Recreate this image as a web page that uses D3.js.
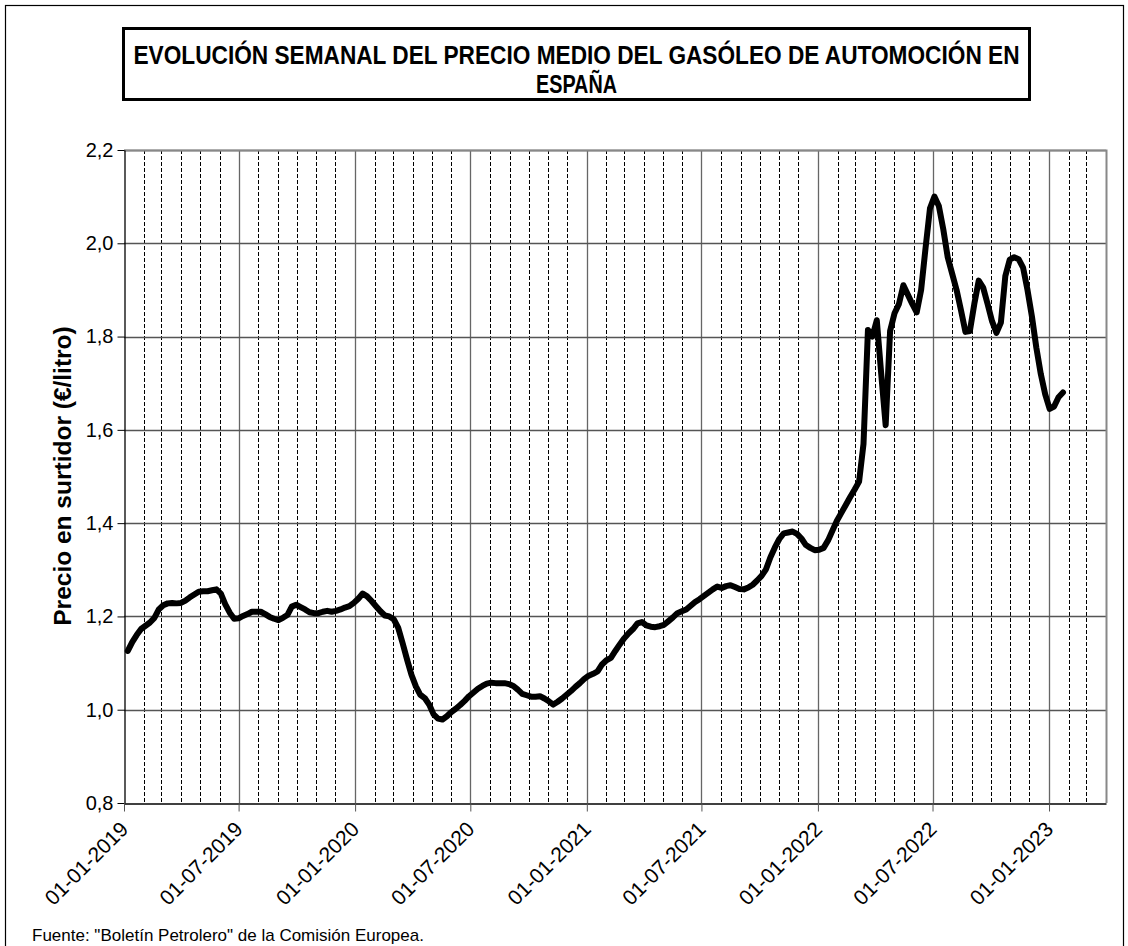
<!DOCTYPE html>
<html>
<head>
<meta charset="utf-8">
<script src="https://cdn.jsdelivr.net/npm/d3@7"></script>
<style>
  body { margin: 0; background: #fff; }
  svg { display: block; font-family: "Liberation Sans", Arial, sans-serif; }
</style>
</head>
<body>
<script>
const width = 1128;
const height = 946;

// weekly series, first week starting on this Monday
const firstWeek = "2019-01-07";
const prices = [
  1.126, 1.145, 1.160, 1.173, 1.180, 1.187, 1.197, 1.215, 1.224, 1.228,
  1.229, 1.228, 1.229, 1.234, 1.241, 1.247, 1.253, 1.254, 1.254, 1.256,
  1.258, 1.249, 1.226, 1.208, 1.195, 1.196, 1.201, 1.205, 1.210, 1.210,
  1.210, 1.205, 1.199, 1.195, 1.192, 1.197, 1.203, 1.221, 1.225, 1.220,
  1.215, 1.209, 1.207, 1.207, 1.210, 1.212, 1.210, 1.212, 1.215, 1.219,
  1.222, 1.229, 1.238, 1.249, 1.243, 1.233, 1.222, 1.211, 1.202, 1.200,
  1.194, 1.176, 1.143, 1.108, 1.075, 1.050, 1.032, 1.025, 1.011, 0.990,
  0.981, 0.979, 0.986, 0.995, 1.002, 1.010, 1.019, 1.029, 1.037, 1.045,
  1.051, 1.056, 1.058, 1.057, 1.057, 1.057, 1.055, 1.051, 1.043, 1.034,
  1.031, 1.028, 1.028, 1.029, 1.024, 1.018, 1.011, 1.017, 1.024, 1.032,
  1.040, 1.049, 1.057, 1.066, 1.073, 1.077, 1.082, 1.097, 1.106, 1.111,
  1.126, 1.140, 1.153, 1.164, 1.173, 1.185, 1.188, 1.181, 1.178, 1.177,
  1.179, 1.182, 1.190, 1.198, 1.207, 1.211, 1.215, 1.223, 1.231, 1.237,
  1.244, 1.251, 1.258, 1.264, 1.261, 1.265, 1.267, 1.263, 1.259, 1.258,
  1.262, 1.268, 1.277, 1.287, 1.301, 1.327, 1.348, 1.366, 1.378, 1.380,
  1.382, 1.377, 1.367, 1.353, 1.347, 1.342, 1.343, 1.347, 1.363, 1.384,
  1.405, 1.422, 1.439, 1.456, 1.472, 1.489, 1.570, 1.814, 1.800, 1.835,
  1.720, 1.610, 1.812, 1.850, 1.870, 1.910, 1.890, 1.870, 1.852, 1.900,
  1.990, 2.075, 2.100, 2.080, 2.030, 1.970, 1.935, 1.900, 1.856, 1.810,
  1.812, 1.870, 1.920, 1.905, 1.870, 1.833, 1.808, 1.830, 1.930, 1.965,
  1.970, 1.966, 1.948, 1.900, 1.843, 1.776, 1.720, 1.676, 1.645, 1.650,
  1.670, 1.680
];

const xDomain = ["2019-01-01", "2023-04-01"];
const xTickLabels = ["01-01-2019", "01-07-2019", "01-01-2020", "01-07-2020",
  "01-01-2021", "01-07-2021", "01-01-2022", "01-07-2022", "01-01-2023"];
const yTicks = [0.8, 1.0, 1.2, 1.4, 1.6, 1.8, 2.0, 2.2];

const titleLines = ["EVOLUCIÓN SEMANAL  DEL PRECIO MEDIO DEL GASÓLEO DE AUTOMOCIÓN EN", "ESPAÑA"];
const yTitle = "Precio en surtidor (€/litro)";
const source = "Fuente:  \"Boletín  Petrolero\"  de la Comisión Europea.";

const parse = d3.utcParse("%Y-%m-%d");
const parseTick = d3.utcParse("%d-%m-%Y");
const start = parse(firstWeek);
const data = prices.map((v, i) => ({ date: d3.utcWeek.offset(start, i), value: v }));

const plot = { left: 124, right: 1106, top: 150, bottom: 803 };

const x = d3.scaleUtc().domain(xDomain.map(parse)).range([plot.left, plot.right]);
const y = d3.scaleLinear().domain([0.8, 2.2]).range([plot.bottom, plot.top]);

const comma = v => d3.format(".1f")(v).replace(".", ",");

const svg = d3.select("body").append("svg")
  .attr("width", width)
  .attr("height", height)
  .attr("viewBox", [0, 0, width, height]);

// outer frame
svg.append("rect")
  .attr("x", 5.5).attr("y", 5.5)
  .attr("width", 1118).attr("height", 960)
  .attr("fill", "none").attr("stroke", "#000").attr("stroke-width", 1.2);

// title box
svg.append("rect")
  .attr("x", 123.5).attr("y", 28.5)
  .attr("width", 906).attr("height", 71)
  .attr("fill", "#fff").attr("stroke", "#000").attr("stroke-width", 3);

const titleFont = "'Liberation Sans Narrow', 'Arial Narrow', 'Liberation Sans', Arial, sans-serif";
svg.append("text")
  .attr("x", 576.5).attr("y", 64)
  .attr("text-anchor", "middle")
  .attr("font-family", titleFont)
  .attr("font-weight", "bold")
  .attr("font-size", 25)
  .attr("textLength", 886).attr("lengthAdjust", "spacingAndGlyphs")
  .text(titleLines[0]);
svg.append("text")
  .attr("x", 576.5).attr("y", 93)
  .attr("text-anchor", "middle")
  .attr("font-family", titleFont)
  .attr("font-weight", "bold")
  .attr("font-size", 25)
  .attr("textLength", 81).attr("lengthAdjust", "spacingAndGlyphs")
  .text(titleLines[1]);

// grid: monthly dashed lines
const months = d3.utcMonth.range(x.domain()[0], x.domain()[1]).filter(d => d.getUTCMonth() % 6 !== 0);
svg.append("g")
  .selectAll("line")
  .data(months)
  .join("line")
  .attr("x1", d => Math.round(x(d)) + 0.5).attr("x2", d => Math.round(x(d)) + 0.5)
  .attr("y1", plot.top).attr("y2", plot.bottom)
  .attr("stroke", "#000").attr("stroke-width", 1)
  .attr("stroke-dasharray", "4,2");

// grid: half-year solid lines
const majors = xTickLabels.map(parseTick);
svg.append("g")
  .selectAll("line")
  .data(majors.slice(1))
  .join("line")
  .attr("x1", d => Math.round(x(d)) + 0.5).attr("x2", d => Math.round(x(d)) + 0.5)
  .attr("y1", plot.top).attr("y2", plot.bottom)
  .attr("stroke", "#666").attr("stroke-width", 1.3);

// grid: horizontal lines
svg.append("g")
  .selectAll("line")
  .data(yTicks.slice(1))
  .join("line")
  .attr("x1", plot.left).attr("x2", plot.right)
  .attr("y1", d => Math.round(y(d)) + 0.5).attr("y2", d => Math.round(y(d)) + 0.5)
  .attr("stroke", "#555").attr("stroke-width", 1.3);

// top / right border of plot area
svg.append("path")
  .attr("d", `M${plot.left},${plot.top + 0.5}H${plot.right + 0.5}V${plot.bottom}`)
  .attr("fill", "none").attr("stroke", "#888").attr("stroke-width", 2);

// axes
const yAxis = d3.axisLeft(y)
  .tickValues(yTicks)
  .tickFormat(comma)
  .tickSize(7)
  .tickSizeOuter(0)
  .tickPadding(4);

const gy = svg.append("g")
  .attr("transform", `translate(${plot.left + 0.5},0)`)
  .call(yAxis);
gy.select(".domain").attr("stroke", "#000").attr("stroke-width", 1.3);
gy.selectAll(".tick line").attr("stroke", "#000");
gy.selectAll(".tick text")
  .attr("font-family", "'Liberation Sans', Arial, sans-serif")
  .attr("font-size", 20)
  .attr("fill", "#000");

const xAxis = d3.axisBottom(x)
  .tickValues(majors)
  .tickFormat((d, i) => xTickLabels[i])
  .tickSize(8)
  .tickSizeOuter(0);

const gx = svg.append("g")
  .attr("transform", `translate(0,${plot.bottom + 0.5})`)
  .call(xAxis);
gx.select(".domain").attr("stroke", "#000").attr("stroke-width", 1.5);
gx.selectAll(".tick line").attr("stroke", "#555");
gx.selectAll(".tick text")
  .attr("font-family", "'Liberation Sans', Arial, sans-serif")
  .attr("font-size", 21)
  .attr("fill", "#000")
  .attr("text-anchor", "end")
  .attr("dy", null)
  .attr("y", 0)
  .attr("transform", "translate(5,27) rotate(-45)");

// y axis title
svg.append("text")
  .attr("transform", `translate(71,476) rotate(-90)`)
  .attr("text-anchor", "middle")
  .attr("font-weight", "bold")
  .attr("font-size", 24.5)
  .text(yTitle);

// series line
const line = d3.line()
  .x(d => x(d.date))
  .y(d => y(d.value));

svg.append("path")
  .datum(data)
  .attr("d", line)
  .attr("fill", "none")
  .attr("stroke", "#000")
  .attr("stroke-width", 6)
  .attr("stroke-linejoin", "round")
  .attr("stroke-linecap", "round");

// source note
svg.append("text")
  .attr("x", 32).attr("y", 941)
  .attr("font-size", 17)
  .text(source);
</script>
</body>
</html>
